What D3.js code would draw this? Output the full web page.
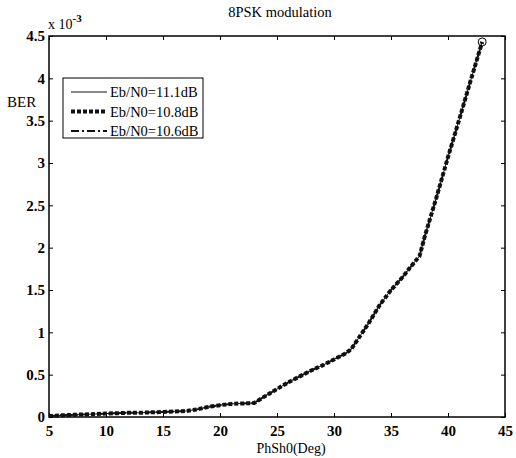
<!DOCTYPE html>
<html>
<head>
<meta charset="utf-8">
<script src="https://d3js.org/d3.v7.min.js"></script>
<style>
  body { margin: 0; background: #fff; }
  text { font-family: "Liberation Serif", "Times New Roman", serif; fill: #000; }
</style>
</head>
<body>
<script>
// phase shift (deg) and BER (x 1e-3)
var phaseDeg = [5, 6, 7, 8, 9, 10, 11, 12, 13, 14, 15, 16, 17, 18, 19, 20, 21, 22, 23, 24, 25, 26, 27, 28, 29, 30, 31, 31.5, 32, 33, 34, 35, 36, 37, 37.5, 38, 39, 40, 41, 42, 43];
var ber111 = [0.01, 0.02, 0.025, 0.03, 0.035, 0.04, 0.045, 0.05, 0.05, 0.055, 0.06, 0.065, 0.07, 0.09, 0.12, 0.14, 0.155, 0.16, 0.165, 0.25, 0.33, 0.41, 0.48, 0.55, 0.61, 0.68, 0.75, 0.8, 0.9, 1.1, 1.32, 1.5, 1.65, 1.82, 1.9, 2.15, 2.6, 3.07, 3.52, 3.98, 4.43];
var ber108 = [0.01, 0.02, 0.025, 0.03, 0.035, 0.04, 0.045, 0.05, 0.05, 0.055, 0.06, 0.065, 0.07, 0.09, 0.12, 0.14, 0.155, 0.16, 0.165, 0.25, 0.33, 0.41, 0.48, 0.55, 0.61, 0.68, 0.75, 0.8, 0.9, 1.1, 1.32, 1.5, 1.65, 1.82, 1.9, 2.15, 2.6, 3.07, 3.52, 3.98, 4.43];
var ber106 = [0.01, 0.02, 0.025, 0.03, 0.035, 0.04, 0.045, 0.05, 0.05, 0.055, 0.06, 0.065, 0.07, 0.09, 0.12, 0.14, 0.155, 0.16, 0.165, 0.25, 0.33, 0.41, 0.48, 0.55, 0.61, 0.68, 0.75, 0.8, 0.9, 1.1, 1.32, 1.5, 1.65, 1.82, 1.9, 2.15, 2.6, 3.07, 3.52, 3.98, 4.43];
var seriesNames = ["Eb/N0=11.1dB", "Eb/N0=10.8dB", "Eb/N0=10.6dB"];
var xTicks = [5, 10, 15, 20, 25, 30, 35, 40, 45];
var yTicks = [0, 0.5, 1, 1.5, 2, 2.5, 3, 3.5, 4, 4.5];

var W = 516, H = 458;
var padL = 49, padR = 505, padT = 36, padB = 417;

var svg = d3.select("body").append("svg")
  .attr("width", W).attr("height", H);

var x = d3.scaleLinear().domain([5, 45]).range([padL, padR]);
var y = d3.scaleLinear().domain([0, 4.5]).range([padB, padT]);

// ticks inward on all sides
var tl = 4;
var xa = svg.append("g").attr("transform", "translate(0," + padB + ")")
  .call(d3.axisBottom(x).tickValues(xTicks).tickSizeInner(-tl).tickSizeOuter(0).tickPadding(8));
var ya = svg.append("g").attr("transform", "translate(" + padL + ",0)")
  .call(d3.axisLeft(y).tickValues(yTicks).tickSizeInner(-tl).tickSizeOuter(0).tickPadding(4)
    .tickFormat(function(d) { return d3.format("")(d); }));
svg.append("g").attr("transform", "translate(0," + padT + ")")
  .call(d3.axisTop(x).tickValues(xTicks).tickSizeInner(-tl).tickSizeOuter(0).tickFormat(""));
svg.append("g").attr("transform", "translate(" + padR + ",0)")
  .call(d3.axisRight(y).tickValues(yTicks).tickSizeInner(-tl).tickSizeOuter(0).tickFormat(""));

svg.selectAll(".domain").remove();
svg.selectAll(".tick line").attr("stroke", "#000").attr("stroke-width", 1);
svg.selectAll(".tick text")
  .style("font-family", "'Liberation Serif', serif")
  .style("font-size", "15px").style("font-weight", "bold").attr("fill", "#000");

svg.append("rect")
  .attr("x", padL).attr("y", padT)
  .attr("width", padR - padL).attr("height", padB - padT)
  .attr("fill", "none").attr("stroke", "#000").attr("stroke-width", 1.5);

var line = d3.line()
  .x(function(d) { return x(d[0]); })
  .y(function(d) { return y(d[1]); });

var styles = [
  { w: 1, dash: null },
  { w: 4, dash: "4,2" },
  { w: 2, dash: "8,3,2,3" }
];
var allData = [ber111, ber108, ber106];

allData.forEach(function(vals, i) {
  svg.append("path")
    .datum(phaseDeg.map(function(p, k) { return [p, vals[k]]; }))
    .attr("d", line)
    .attr("fill", "none")
    .attr("stroke", "#111")
    .attr("stroke-width", styles[i].w)
    .attr("stroke-dasharray", styles[i].dash);
});

// end marker
var last = phaseDeg.length - 1;
svg.append("circle")
  .attr("cx", x(phaseDeg[last])).attr("cy", y(ber111[last]))
  .attr("r", 4).attr("fill", "none").attr("stroke", "#000").attr("stroke-width", 1);

// texts
svg.append("text").attr("x", 280).attr("y", 17).attr("text-anchor", "middle")
  .style("font-size", "14.5px").text("8PSK modulation");
var mult = svg.append("text").attr("x", 48).attr("y", 29).style("font-size", "14px");
mult.append("tspan").text("x 10");
mult.append("tspan").attr("dy", -7).style("font-size", "11px").style("font-weight", "bold").text("-3");
svg.append("text").attr("x", 7).attr("y", 107).style("font-size", "15px").text("BER");
svg.append("text").attr("x", 291).attr("y", 453).attr("text-anchor", "middle")
  .style("font-size", "14px").text("PhSh0(Deg)");

// legend
var lg = svg.append("g");
lg.append("rect").attr("x", 63).attr("y", 78).attr("width", 140).attr("height", 60)
  .attr("fill", "#fff").attr("stroke", "#000").attr("stroke-width", 1);
seriesNames.forEach(function(name, i) {
  var ry = 92 + i * 19.5;
  lg.append("line").attr("x1", 71).attr("x2", 107).attr("y1", ry).attr("y2", ry)
    .attr("stroke", "#111").attr("stroke-width", styles[i].w)
    .attr("stroke-dasharray", styles[i].dash);
  lg.append("text").attr("x", 110).attr("y", ry + 5).style("font-size", "14.5px").text(name);
});
</script>
</body>
</html>
